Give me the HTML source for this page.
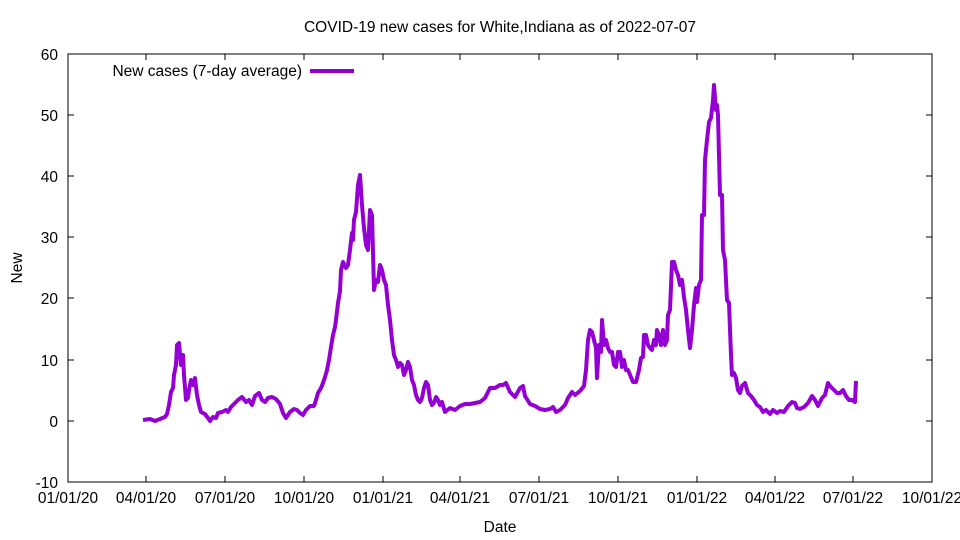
<!DOCTYPE html>
<html><head><meta charset="utf-8"><style>
body{margin:0;background:#fff}
svg{display:block;font-family:"Liberation Sans",sans-serif;font-size:15.5px}
</style></head><body>
<svg width="960" height="540" viewBox="0 0 960 540">
<rect width="960" height="540" fill="#fff"/>
<text x="500" y="32" text-anchor="middle">COVID-19 new cases for White,Indiana as of 2022-07-07</text>
<rect x="68" y="54" width="864" height="428" fill="none" stroke="#000" stroke-width="1"/>
<g stroke="#000" stroke-width="1">
<path d="M68 54h6M926 54h6M68 115h6M926 115h6M68 176h6M926 176h6M68 237h6M926 237h6M68 298h6M926 298h6M68 360h6M926 360h6M68 421h6M926 421h6M68 482h6M926 482h6"/>
<path d="M68 482v-6M68 54v6M146 482v-6M146 54v6M225 482v-6M225 54v6M304 482v-6M304 54v6M383 482v-6M383 54v6M460 482v-6M460 54v6M539 482v-6M539 54v6M618 482v-6M618 54v6M697 482v-6M697 54v6M775 482v-6M775 54v6M853 482v-6M853 54v6M932 482v-6M932 54v6"/>
</g>
<g text-anchor="end">
<text x="58" y="60">60</text><text x="58" y="121">50</text><text x="58" y="182">40</text><text x="58" y="243">30</text><text x="58" y="304">20</text><text x="58" y="366">10</text><text x="58" y="427">0</text><text x="58" y="488">-10</text>
</g>
<g text-anchor="middle">
<text x="68" y="503">01/01/20</text><text x="146" y="503">04/01/20</text><text x="225" y="503">07/01/20</text><text x="304" y="503">10/01/20</text><text x="383" y="503">01/01/21</text><text x="460" y="503">04/01/21</text><text x="539" y="503">07/01/21</text><text x="618" y="503">10/01/21</text><text x="697" y="503">01/01/22</text><text x="775" y="503">04/01/22</text><text x="853" y="503">07/01/22</text><text x="932" y="503">10/01/22</text>
<text x="500" y="532">Date</text>
</g>
<text transform="translate(22,268) rotate(-90)" text-anchor="middle">New</text>
<text x="302" y="76" text-anchor="end">New cases (7-day average)</text>
<path d="M310 71h44" stroke="#9400d3" stroke-width="4"/>
<polyline fill="none" stroke="#9400d3" stroke-width="4" stroke-linejoin="round" points="143,420 150,419 155,421 160,419 165,417 167,414 169,405 171,392 173,388 174,375 176,365 177,345 179,343 181,365 183,355 184,375 186,400 188,398 189,390 191,380 193,385 195,378 197,395 199,405 201,412 205,414 208,418 210,421 213,417 216,418 218,413 222,412 226,410 228,412 231,407 235,403 238,400 242,397 246,402 249,400 252,405 255,396 259,393 262,400 265,402 268,398 272,397 276,399 280,404 283,413 286,418 290,412 294,409 297,410 300,413 303,415 306,410 310,406 314,406 316,400 318,393 321,388 323,383 325,377 327,370 329,360 331,347 333,335 335,327 336,320 338,303 340,291 341,270 343,262 346,268 348,265 350,250 352,233 353,240 354,220 356,212 358,185 360,175 362,205 364,228 366,245 368,250 370,210 372,215 374,290 376,280 378,282 380,265 382,270 384,280 386,285 388,305 390,320 392,340 394,355 396,360 398,367 400,363 402,365 404,375 406,370 408,362 410,367 412,380 414,385 416,395 418,400 420,402 422,398 424,388 426,382 428,385 430,400 432,405 434,403 436,397 438,400 440,405 442,402 445,412 450,408 455,410 460,406 465,404 470,404 475,403 480,402 485,398 490,388 495,388 500,385 503,385 506,383 510,392 515,397 520,388 523,386 525,396 530,404 535,406 540,409 545,410 550,409 553,407 556,412 560,410 565,405 568,398 572,392 575,395 580,391 584,386 586,370 588,340 590,330 592,332 594,340 596,348 597,378 599,345 601,352 602,320 604,345 606,340 608,348 610,352 612,352 614,365 616,367 618,352 620,352 622,367 624,360 626,370 628,370 633,382 636,382 639,370 641,358 643,357 644,335 646,335 648,345 650,348 652,350 654,340 656,345 657,330 659,335 661,345 663,330 665,345 667,340 668,315 670,310 672,262 674,262 676,270 678,275 680,285 682,280 684,297 686,310 688,330 690,348 692,330 694,305 696,288 697,302 699,285 701,280 702,215 704,215 705,160 707,140 709,122 711,118 713,100 714,85 716,110 717,105 718,115 720,195 722,195 723,250 725,260 727,300 729,303 731,355 732,375 734,373 736,378 738,390 740,393 742,386 745,383 748,393 751,396 754,400 757,405 760,407 763,412 766,410 770,414 773,410 777,413 780,411 784,412 788,406 792,402 795,403 797,408 800,409 804,407 808,403 812,396 815,400 818,406 822,398 825,395 828,383 830,386 834,390 837,393 840,393 843,390 846,396 849,400 852,400 855,402 856,381"/>
</svg>
</body></html>
